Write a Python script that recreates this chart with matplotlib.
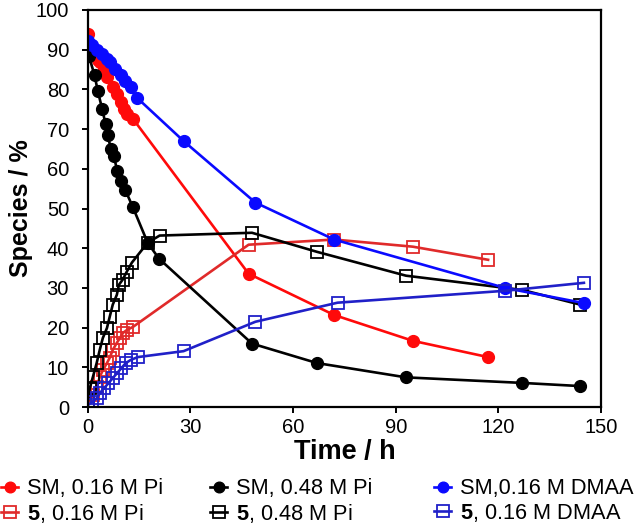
import matplotlib.pyplot as plt

plt.rcParams['font.family'] = ['Liberation Sans', 'DejaVu Sans']
plt.rcParams['mathtext.fontset'] = 'custom'
plt.rcParams['mathtext.bf'] = 'Liberation Sans:bold'

# SM, 0.16 M Pi
t_sm_red = [0, 3, 3.7, 4.7, 5.6, 7.4, 8.4, 9.7, 10.5, 11.5, 13.2, 47, 72, 95, 117]
sm_red = [94.0, 87.3, 86.9, 85.2, 83.1, 80.6, 78.9, 76.8, 75.1, 73.8, 72.6, 33.6, 23.2, 16.7, 12.6]
# 5, 0.16 M Pi
t_p_red = [0, 1.5, 2.6, 3.5, 4.4, 5.6, 6.4, 7.3, 8.5, 9.4, 10.3, 11.4, 13.2, 47, 72, 95, 117]
p_red = [1.0, 3.0, 5.0, 7.6, 9.3, 11.1, 12.4, 14.4, 16.2, 17.4, 18.7, 19.4, 20.2, 40.9, 42.2, 40.4, 37.1]

# SM, 0.48 M Pi
t_sm_blk = [0.3, 2, 2.9, 4.2, 5.2, 5.8, 6.8, 7.6, 8.6, 9.7, 11, 13.2, 17.5, 20.8, 48, 67, 93, 127, 144]
sm_blk = [88.5, 83.5, 79.7, 75.1, 71.3, 68.4, 65.0, 63.3, 59.5, 57.0, 54.6, 50.3, 41.4, 37.4, 16.0, 11.1, 7.5, 6.1, 5.3]
# 5, 0.48 M Pi
t_p_blk = [0, 0.6, 1.5, 2.6, 3.5, 4.4, 5.6, 6.4, 7.3, 8.5, 9.1, 10.2, 11.4, 12.9, 17.5, 21, 48, 67, 93, 127, 144]
p_blk = [1.3, 4.8, 7.6, 11.1, 14.4, 17.4, 19.9, 22.7, 25.8, 28.3, 30.8, 32.1, 34.1, 36.4, 41.4, 43.2, 43.9, 39.1, 33.1, 29.5, 25.8]

# SM, 0.16 M DMAA
t_sm_blu = [0, 1.3, 2.7, 4.2, 5.5, 6.6, 8.1, 9.6, 11, 12.5, 14.5, 28, 49, 72, 122, 145]
sm_blu = [92.3, 91.1, 89.8, 89.0, 87.7, 86.9, 85.2, 83.5, 82.2, 80.6, 77.8, 67.0, 51.5, 42.2, 30.0, 26.2]
# 5, 0.16 M DMAA
t_p_blu = [0, 1.3, 2.7, 3.5, 4.8, 6, 7.3, 8.6, 9.8, 11.1, 12.6, 14.6, 28, 49, 73, 122, 145]
p_blu = [0.5, 1.3, 2.3, 3.5, 4.8, 6.0, 7.3, 8.6, 9.8, 11.1, 11.9, 12.6, 14.1, 21.5, 26.3, 29.3, 31.3]

red, red_sq = '#ff0a0a', '#e02a2a'
blk = '#000000'
blu, blu_sq = '#0a0aff', '#2020c8'

fig = plt.figure(figsize=(6.36, 5.24), dpi=100)
ax = fig.add_axes([0.138, 0.223, 0.807, 0.758])

circ = dict(marker='o', markersize=8.5, linewidth=1.9)
sq = dict(marker='s', markersize=9, linewidth=1.9, markerfacecolor='none', markeredgewidth=1.3)

h1, = ax.plot(t_sm_red, sm_red, color=red, label='SM, 0.16 M Pi', **circ)
h4, = ax.plot(t_p_red, p_red, color=red_sq, label=r'$\mathbf{5}$, 0.16 M Pi', **sq)
h2, = ax.plot(t_sm_blk, sm_blk, color=blk, label='SM, 0.48 M Pi', **circ)
h5, = ax.plot(t_p_blk, p_blk, color=blk, label=r'$\mathbf{5}$, 0.48 M Pi', **sq)
h3, = ax.plot(t_sm_blu, sm_blu, color=blu, label='SM,0.16 M DMAA', **circ)
h6, = ax.plot(t_p_blu, p_blu, color=blu_sq, label=r'$\mathbf{5}$, 0.16 M DMAA', **sq)

ax.set_xlim(0, 150)
ax.set_ylim(0, 100)
ax.set_xticks(range(0, 151, 30))
ax.set_yticks(range(0, 101, 10))
ax.tick_params(labelsize=14.5, direction='out', length=4.5, width=1.4)
ax.tick_params(axis='y', pad=9)
ax.tick_params(axis='x', pad=3)
for s in ax.spines.values():
    s.set_linewidth(1.6)

ax.set_xlabel('Time / h', fontsize=19.5, fontweight='bold', labelpad=2)
ax.set_ylabel('Species / %', fontsize=18, fontweight='bold', labelpad=2)

# one legend per column, Excel-style spacing
for x0, hs in [(1, [h1, h4]), (210, [h2, h5]), (434, [h3, h6])]:
    fig.legend(handles=hs, loc='upper left', bbox_to_anchor=(x0 / 636, 0.087),
               frameon=False, fontsize=15.7, handlelength=0.8, handletextpad=0.4,
               labelspacing=0.1, borderaxespad=0, borderpad=0, markerscale=0.9)

fig.savefig('out.png', dpi=100)
